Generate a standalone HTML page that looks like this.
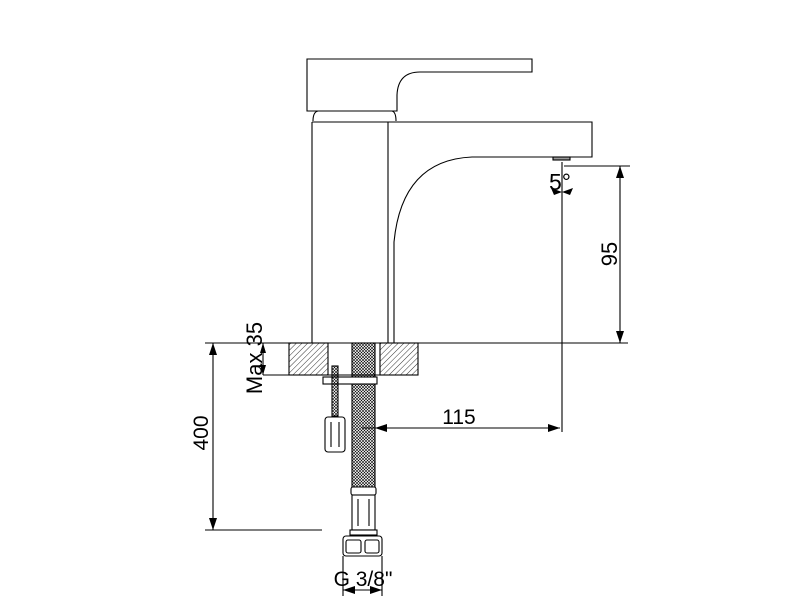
<!DOCTYPE html>
<html><head><style>html,body{margin:0;padding:0;background:#fff}svg{display:block}</style></head><body>
<svg width="800" height="600" viewBox="0 0 800 600" xmlns="http://www.w3.org/2000/svg" font-family="Liberation Sans, Arial, sans-serif">
<defs>
<pattern id="h" width="4" height="4" patternUnits="userSpaceOnUse" patternTransform="rotate(45)"><line x1="0" y1="0" x2="0" y2="4" stroke="#000" stroke-width="0.8"/></pattern>
<pattern id="x" width="3" height="3" patternUnits="userSpaceOnUse"><path d="M0 0L3 3M3 0L0 3" stroke="#000" stroke-width="0.6"/></pattern>
</defs>
<g fill="none" stroke="#000" stroke-width="1.1">
<path d="M307 59 H532 V72 H420 Q398 72 397 95 V111 H307 Z"/>
<path d="M313 121 Q313 112 318 111 H392 Q396 112 396 121"/>
<path d="M312 122 V343"/>
<path d="M388 122 V343"/>
<path d="M312 122 H592 V157 H472 Q402 160 394 242 V343"/>
<rect x="553" y="157" width="17" height="3" fill="#999"/>
<line x1="205" y1="343" x2="628" y2="343"/>
<rect x="289" y="343" width="39" height="32" fill="url(#h)"/>
<rect x="380" y="343" width="38" height="32" fill="url(#h)"/>
<rect x="352" y="343" width="23" height="144" fill="url(#x)"/>
<line x1="263" y1="375" x2="380" y2="375"/>
<rect x="323" y="377" width="54" height="7" fill="#fff"/>
<rect x="332" y="366" width="6" height="50" fill="url(#x)"/>
<rect x="325" y="417" width="20" height="35" rx="3" fill="#fff"/>
<line x1="331" y1="422" x2="331" y2="447"/><line x1="339" y1="422" x2="339" y2="447"/>
<rect x="351" y="487" width="25" height="8" rx="2" fill="#fff"/>
<rect x="352" y="495" width="23" height="35" fill="#fff"/>
<line x1="358" y1="499" x2="358" y2="526"/><line x1="369" y1="499" x2="369" y2="526"/>
<rect x="350" y="530" width="27" height="5" fill="#fff"/>
<rect x="343" y="536" width="39" height="20" rx="3" fill="#fff"/>
<rect x="346" y="540" width="15" height="13" rx="2"/><rect x="365" y="540" width="14" height="13" rx="2"/>
<line x1="213" y1="343" x2="213" y2="530"/>
<line x1="205" y1="530" x2="322" y2="530"/>
<line x1="263" y1="343" x2="263" y2="375"/>
<line x1="562" y1="162" x2="562" y2="432"/>
<line x1="564" y1="166" x2="630" y2="166"/>
<line x1="620" y1="166" x2="620" y2="343"/>
<line x1="362" y1="428" x2="560" y2="428"/>
<line x1="343" y1="556" x2="343" y2="596"/><line x1="382" y1="556" x2="382" y2="596"/>
<line x1="343" y1="590" x2="382" y2="590"/>
</g>
<g fill="#000">
<path d="M213 343l-4 12h8z"/><path d="M213 530l-4-12h8z"/>
<path d="M263 343l-3 10h6z"/><path d="M263 375l-3-10h6z"/>
<path d="M620 166l-4 12h8z"/><path d="M620 343l-4-12h8z"/>
<path d="M560 428l-12-4v8z"/><path d="M375 428l12-4v8z"/>
<path d="M343 590l12-4v8z"/><path d="M382 590l-12-4v8z"/>
<path d="M562 192l-11-4 3 7z"/><path d="M562 192l11-4-3 7z"/>
</g>
<g font-size="21" fill="#000">
<text x="459" y="424" text-anchor="middle">115</text>
<text x="560" y="190" text-anchor="middle" font-size="23">5°</text>
<text transform="translate(617 254) rotate(-90)" text-anchor="middle" font-size="22">95</text>
<text transform="translate(208 433) rotate(-90)" text-anchor="middle">400</text>
<text transform="translate(262 358) rotate(-90)" text-anchor="middle" font-size="22">Max 35</text>
<text x="363" y="586" text-anchor="middle">G 3/8"</text>
</g>
</svg>
</body></html>
